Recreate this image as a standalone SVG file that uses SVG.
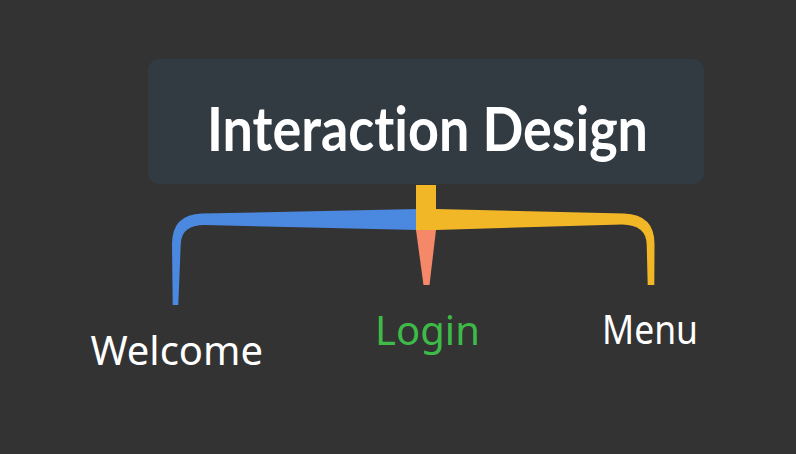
<svg xmlns="http://www.w3.org/2000/svg" width="796" height="454" viewBox="0 0 796 454">
<style>
.lbl{font-family:"Noto Sans","Open Sans",sans-serif;font-size:40px;text-anchor:middle;fill:#ffffff}
.title{font-family:Lato,"Noto Sans",sans-serif;font-size:62px;font-weight:bold;text-anchor:middle;fill:#ffffff;font-variant-ligatures:none;font-feature-settings:"liga" 0,"dlig" 0}
</style>
<rect x="0" y="0" width="796" height="454" fill="#333333"/>
<g id="connectors">
<path id="c-welcome" fill="#4a89df" d="M418,209 L202,213.5 Q172,214.5 172,244 L172.7,305 L178.3,305 L180.7,245 Q180.7,225 205,225 L418,230 Z"/>
<path id="c-menu" fill="#f1b727" d="M416,185 L436,185 L436,209 L624,213.5 Q654.5,214.5 654.5,244 L654.3,285 L647.7,285 L646.7,245 Q646.7,225 622,224.5 L436,230 L416,230 Z"/>
<path id="c-login" fill="#f48868" d="M416,230 L436,230 L429.5,285 L423.5,285 Z"/>
</g>
<g id="root">
<rect x="148" y="59" width="556" height="125" rx="11" fill="#323a42"/>
<text class="title" x="427.5" y="151" textLength="441" lengthAdjust="spacingAndGlyphs">Interaction Design</text>
</g>
<g id="welcome"><text class="lbl" x="176.7" y="365">Welcome</text></g>
<g id="login"><text class="lbl" x="427.5" y="345" style="fill:#3dba48">Login</text></g>
<g id="menu"><text class="lbl" x="650" y="344" textLength="96" lengthAdjust="spacingAndGlyphs">Menu</text></g>
</svg>
